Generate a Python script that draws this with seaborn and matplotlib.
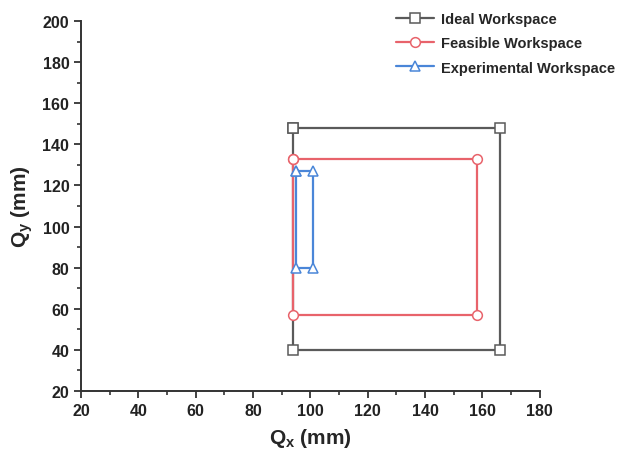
import matplotlib
matplotlib.use("Agg")
import matplotlib.pyplot as plt
import seaborn as sns
import pandas as pd

sns.set_theme(style="ticks")
plt.rcParams['font.family'] = ['Liberation Sans', 'DejaVu Sans']
plt.rcParams['font.weight'] = 'bold'
plt.rcParams['mathtext.fontset'] = 'custom'
plt.rcParams['mathtext.rm'] = 'Liberation Sans:bold'
plt.rcParams['mathtext.bf'] = 'Liberation Sans:bold'
plt.rcParams['mathtext.it'] = 'Liberation Sans:bold'

# Data: closed rectangle corners for each workspace
ideal_x = [94, 166, 166, 94, 94]
ideal_y = [148, 148, 40, 40, 148]
feasible_x = [94, 158, 158, 94, 94]
feasible_y = [133, 133, 57, 57, 133]
exp_x = [95, 101, 101, 95, 95]
exp_y = [127, 127, 80, 80, 127]
series = ["Ideal Workspace", "Feasible Workspace", "Experimental Workspace"]
colors = ["#5a5a5a", "#e8636b", "#4a86d8"]
markers = ["s", "o", "^"]

fig = plt.figure(figsize=(6.24, 4.6), dpi=100)
ax = fig.add_axes([0.13, 0.148, 0.735, 0.804])

for xs, ys, name, c, m in zip([ideal_x, feasible_x, exp_x], [ideal_y, feasible_y, exp_y],
                              series, colors, markers):
    df = pd.DataFrame({"x": xs, "y": ys})
    sns.lineplot(data=df, x="x", y="y", sort=False, estimator=None, ax=ax,
                 color=c, marker=m, markersize=7, markerfacecolor="white",
                 markeredgecolor=c, markeredgewidth=1.1, linewidth=1.6, label=name)

ax.set_xlim(20, 180)
ax.set_ylim(20, 200)
ax.set_xticks(range(20, 181, 20))
ax.set_yticks(range(20, 201, 20))
ax.set_xticks(range(30, 180, 20), minor=True)
ax.set_yticks(range(30, 200, 20), minor=True)
ax.tick_params(axis='both', which='major', direction='out', length=5, width=1.3,
               labelsize=11.5, color='#333333', labelcolor='#222222')
ax.tick_params(axis='both', which='minor', direction='out', length=3, width=1.2, color='#333333')
for lab in ax.get_xticklabels() + ax.get_yticklabels():
    lab.set_fontweight('bold')
sns.despine(ax=ax)
for s in ['left', 'bottom']:
    ax.spines[s].set_linewidth(1.4)
    ax.spines[s].set_color('#333333')

ax.set_xlabel(r"Q$_{\mathrm{x}}$ (mm)", fontsize=15, fontweight='bold', labelpad=6)
ax.set_ylabel(r"Q$_{\mathrm{y}}$ (mm)", fontsize=15, fontweight='bold', labelpad=5)

handles, labels = ax.get_legend_handles_labels()
ax.get_legend().remove()
fig.legend(handles, labels, loc='upper left', bbox_to_anchor=(383/624, 1 - 0/460),
           frameon=False, handlelength=2.6, handletextpad=0.5,
           labelspacing=0.7, prop={'weight': 'bold', 'size': 10.5})

fig.savefig("out.png", dpi=100)
